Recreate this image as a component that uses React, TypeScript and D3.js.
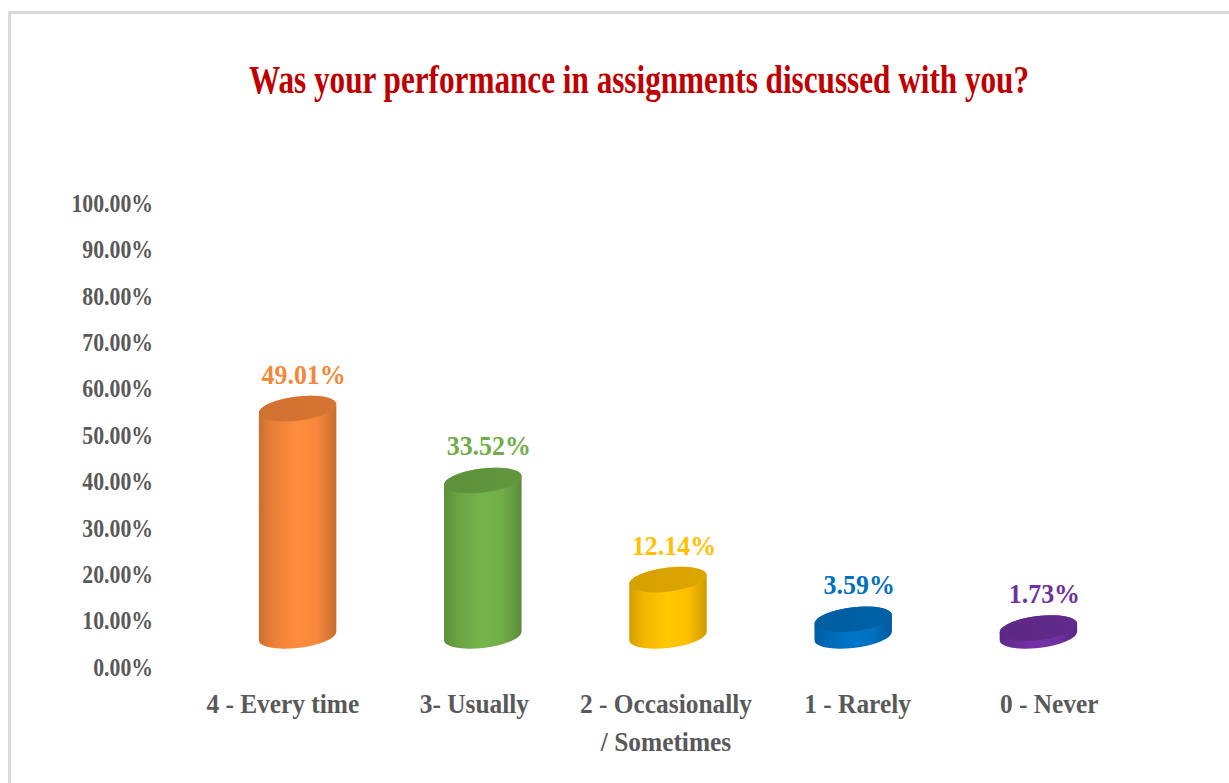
import React from 'react';
import * as d3 from 'd3';

// survey answers, percent of respondents
const categories = ['4 - Every time', '3- Usually', '2 - Occasionally / Sometimes', '1 - Rarely', '0 - Never'];
const categoryLines = [['4 - Every time'], ['3- Usually'], ['2 - Occasionally', '/ Sometimes'], ['1 - Rarely'], ['0 - Never']];
const values = [49.01, 33.52, 12.14, 3.59, 1.73];
const barColors = ['#F7873A', '#70AD47', '#FFC000', '#0070C0', '#7030A0'];
const labelColors = ['#F4873A', '#70AD47', '#FFC000', '#0070C0', '#7030A0'];
const yTicks = [0, 10, 20, 30, 40, 50, 60, 70, 80, 90, 100];

const W = 1229;
const H = 783;
const FONT = '"Liberation Serif", "Times New Roman", serif';
const depth = 31; // 3d floor is drawn above the value axis baseline
const rx = 39;
const ry = 12;
const tilt = -7;

const y = d3.scaleLinear().domain([0, 100]).range([667, 203]);
const x = d3.scaleBand().domain(categories).range([205, 1131]);
const xLabel = d3.scaleBand().domain(categories).range([187, 1145]);

function cylinderBody(cx: number, yt: number, yb: number) {
  const phi = (tilt * Math.PI) / 180;
  const t0 = Math.atan2(-ry * Math.sin(phi), rx * Math.cos(phi));
  const pt = (cy: number, t: number) => [
    cx + rx * Math.cos(t) * Math.cos(phi) - ry * Math.sin(t) * Math.sin(phi),
    cy + rx * Math.cos(t) * Math.sin(phi) + ry * Math.sin(t) * Math.cos(phi),
  ];
  const rb = pt(yb, t0), lb = pt(yb, t0 + Math.PI);
  const rt = pt(yt, t0), lt = pt(yt, t0 + Math.PI);
  return `M${lt[0]},${lt[1]} L${lb[0]},${lb[1]} A${rx},${ry} ${tilt} 0 0 ${rb[0]},${rb[1]} L${rt[0]},${rt[1]} A${rx},${ry} ${tilt} 0 0 ${lt[0]},${lt[1]} Z`;
}

const shade = (c: string, k: number) => d3.color(c)!.darker(k).formatHex();
const tint = (c: string, k: number) => d3.color(c)!.brighter(k).formatHex();

export default function App() {
  return (
    <svg width={W} height={H} style={{ position: 'absolute', left: 0, top: 0, background: '#fff' }}>
      <defs>
        {barColors.map((c, i) => (
          <linearGradient key={i} id={`body${i}`} x1="0" x2="1" y1="0" y2="0">
            <stop offset="0" stopColor={shade(c, 0.55)} />
            <stop offset="0.18" stopColor={shade(c, 0.15)} />
            <stop offset="0.5" stopColor={tint(c, 0.12)} />
            <stop offset="0.75" stopColor={c} />
            <stop offset="1" stopColor={shade(c, 0.6)} />
          </linearGradient>
        ))}
        {barColors.map((c, i) => (
          <linearGradient key={i} id={`top${i}`} x1="0" x2="1" y1="0" y2="0">
            <stop offset="0" stopColor={shade(c, 0.5)} />
            <stop offset="1" stopColor={shade(c, 0.4)} />
          </linearGradient>
        ))}
      </defs>

      <rect x={9.5} y={12.5} width={1260} height={820} fill="#fff" stroke="#D9D9D9" strokeWidth={3} />

      <text
        transform={`translate(639,93) scale(0.78,1)`}
        textAnchor="middle"
        fontFamily={FONT}
        fontWeight="bold"
        fontSize={40}
        fill="#C00000"
      >
        Was your performance in assignments discussed with you?
      </text>

      <g fontFamily={FONT} fontWeight="bold" fontSize={25} fill="#595959">
        {yTicks.map((t) => (
          <text key={t} transform={`translate(153,${y(t)}) scale(0.87,1)`} textAnchor="end" dy="0.35em">
            {t.toFixed(2)}%
          </text>
        ))}
      </g>

      {values.map((v, i) => {
        const cx = x(categories[i])! + x.bandwidth() / 2;
        const yb = y(0) - depth;
        const yt = y(v) - depth;
        return (
          <g key={i}>
            <path d={cylinderBody(cx, yt, yb)} fill={`url(#body${i})`} />
            <ellipse cx={cx} cy={yt} rx={rx} ry={ry} transform={`rotate(${tilt},${cx},${yt})`} fill={`url(#top${i})`} />
            <text
              transform={`translate(${cx + 6},${yt - 25}) scale(0.96,1)`}
              textAnchor="middle"
              fontFamily={FONT}
              fontWeight="bold"
              fontSize={27}
              fill={labelColors[i]}
            >
              {v.toFixed(2)}%
            </text>
          </g>
        );
      })}

      <g fontFamily={FONT} fontWeight="bold" fontSize={27} fill="#595959">
        {categories.map((c, i) => {
          const cx = xLabel(c)! + xLabel.bandwidth() / 2;
          return categoryLines[i].map((line, j) => (
            <text key={c + j} transform={`translate(${cx},${713 + j * 38}) scale(0.94,1)`} textAnchor="middle">
              {line}
            </text>
          ));
        })}
      </g>
    </svg>
  );
}
